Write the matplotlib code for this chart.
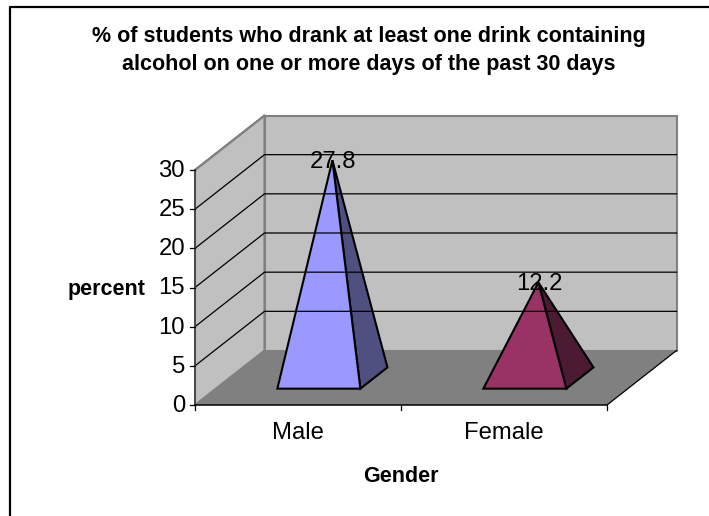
import matplotlib
matplotlib.use('Agg')
import matplotlib.pyplot as plt

plt.rcParams['font.family'] = ['Liberation Sans', 'DejaVu Sans']

categories = ['Male', 'Female']
values = [27.8, 12.2]
yticks = [0, 5, 10, 15, 20, 25, 30]
front_colors = ['#9999ff', '#993366']
side_colors = ['#4f4f80', '#4d1a33']
title = '% of students who drank at least one drink containing\nalcohol on one or more days of the past 30 days'

# chart box in picture pixels
x0, x1 = 195, 607
y0 = 405
ppu = 235 / 30  # pixels per percent
dx, dy = 69.5, -54.5  # depth offset of the back wall


def px(pos, val=0, depth=0):
    # pos 0..1 along the categories, val in percent, depth 0..1 front to back
    return x0 + pos * (x1 - x0) + depth * dx


def py(pos, val=0, depth=0):
    return y0 - val * ppu + depth * dy


def pt(pos, val=0, depth=0):
    return (px(pos, val, depth), py(pos, val, depth))


fig = plt.figure(figsize=(7.09, 5.16), dpi=100)
ax = fig.add_axes([0, 0, 1, 1])
ax.set_xlim(0, 709)
ax.set_ylim(516, 0)
ax.axis('off')

# outer frame, only left and top are in the picture
ax.plot([10, 10, 709], [516, 6.5, 6.5], color='black', lw=1.6, solid_capstyle='butt')

top = yticks[-1]
wall = '#c0c0c0'
edge = '#808080'
ax.fill(*zip(pt(0), pt(0, 0, 1), pt(0, top, 1), pt(0, top)), fc=wall, ec=edge, lw=1.5)
ax.fill(*zip(pt(0, 0, 1), pt(1, 0, 1), pt(1, top, 1), pt(0, top, 1)), fc=wall, ec=edge, lw=1.5)
ax.fill(*zip(pt(0), pt(1), pt(1, 0, 1), pt(0, 0, 1)), fc='#808080', ec='none')
ax.plot(*zip(pt(1), pt(1, 0, 1)), color='black', lw=0.9)

for t in yticks[1:-1]:
    ax.plot(*zip(pt(0, t), pt(0, t, 1), pt(1, t, 1)), color='black', lw=0.9)
ax.plot(*zip(pt(0, top), pt(0, top, 1)), color=edge, lw=1.5)

# axis lines and ticks
ax.plot(*zip(pt(0, top), pt(0)), color='#404040', lw=1.2)
ax.plot(*zip(pt(0), pt(1)), color='black', lw=1.1)
for t in yticks:
    ax.plot([x0 - 5, x0], [py(0, t), py(0, t)], color='black', lw=0.9)
    ax.text(x0 - 10, py(0, t) + 1, str(t), ha='right', va='center', fontsize=17.2)
n = len(categories)
for i in range(n + 1):
    ax.plot([px(i / n)] * 2, [y0, y0 + 5], color='black', lw=0.9)

# pyramids
half = 41.5 / (x1 - x0)
for i, (name, v) in enumerate(zip(categories, values)):
    c = (i + 0.5) / n
    d0, d1 = 0.3, 0.69
    apex = pt(c, v, (d0 + d1) / 2)
    ax.fill(*zip(pt(c + half, 0, d0), pt(c + half, 0, d1), apex), fc=side_colors[i], ec='black', lw=1.5, joinstyle='miter')
    ax.fill(*zip(pt(c - half, 0, d0), pt(c + half, 0, d0), apex), fc=front_colors[i], ec='black', lw=1.5, joinstyle='miter')
    ax.text(apex[0] + 0.5, apex[1] + 2, str(v), ha='center', va='center', fontsize=17.2)
    ax.text(px(c), 433, name, ha='center', va='center', fontsize=17.2)

ax.text(369, 50.5, title, ha='center', va='center', fontsize=15.5, fontweight='bold', linespacing=1.42)
ax.text(107, 289, 'percent', ha='center', va='center', fontsize=15.5, fontweight='bold')
ax.text(400.5, 476, 'Gender', ha='center', va='center', fontsize=15.5, fontweight='bold')

fig.savefig('out.png', dpi=100)
